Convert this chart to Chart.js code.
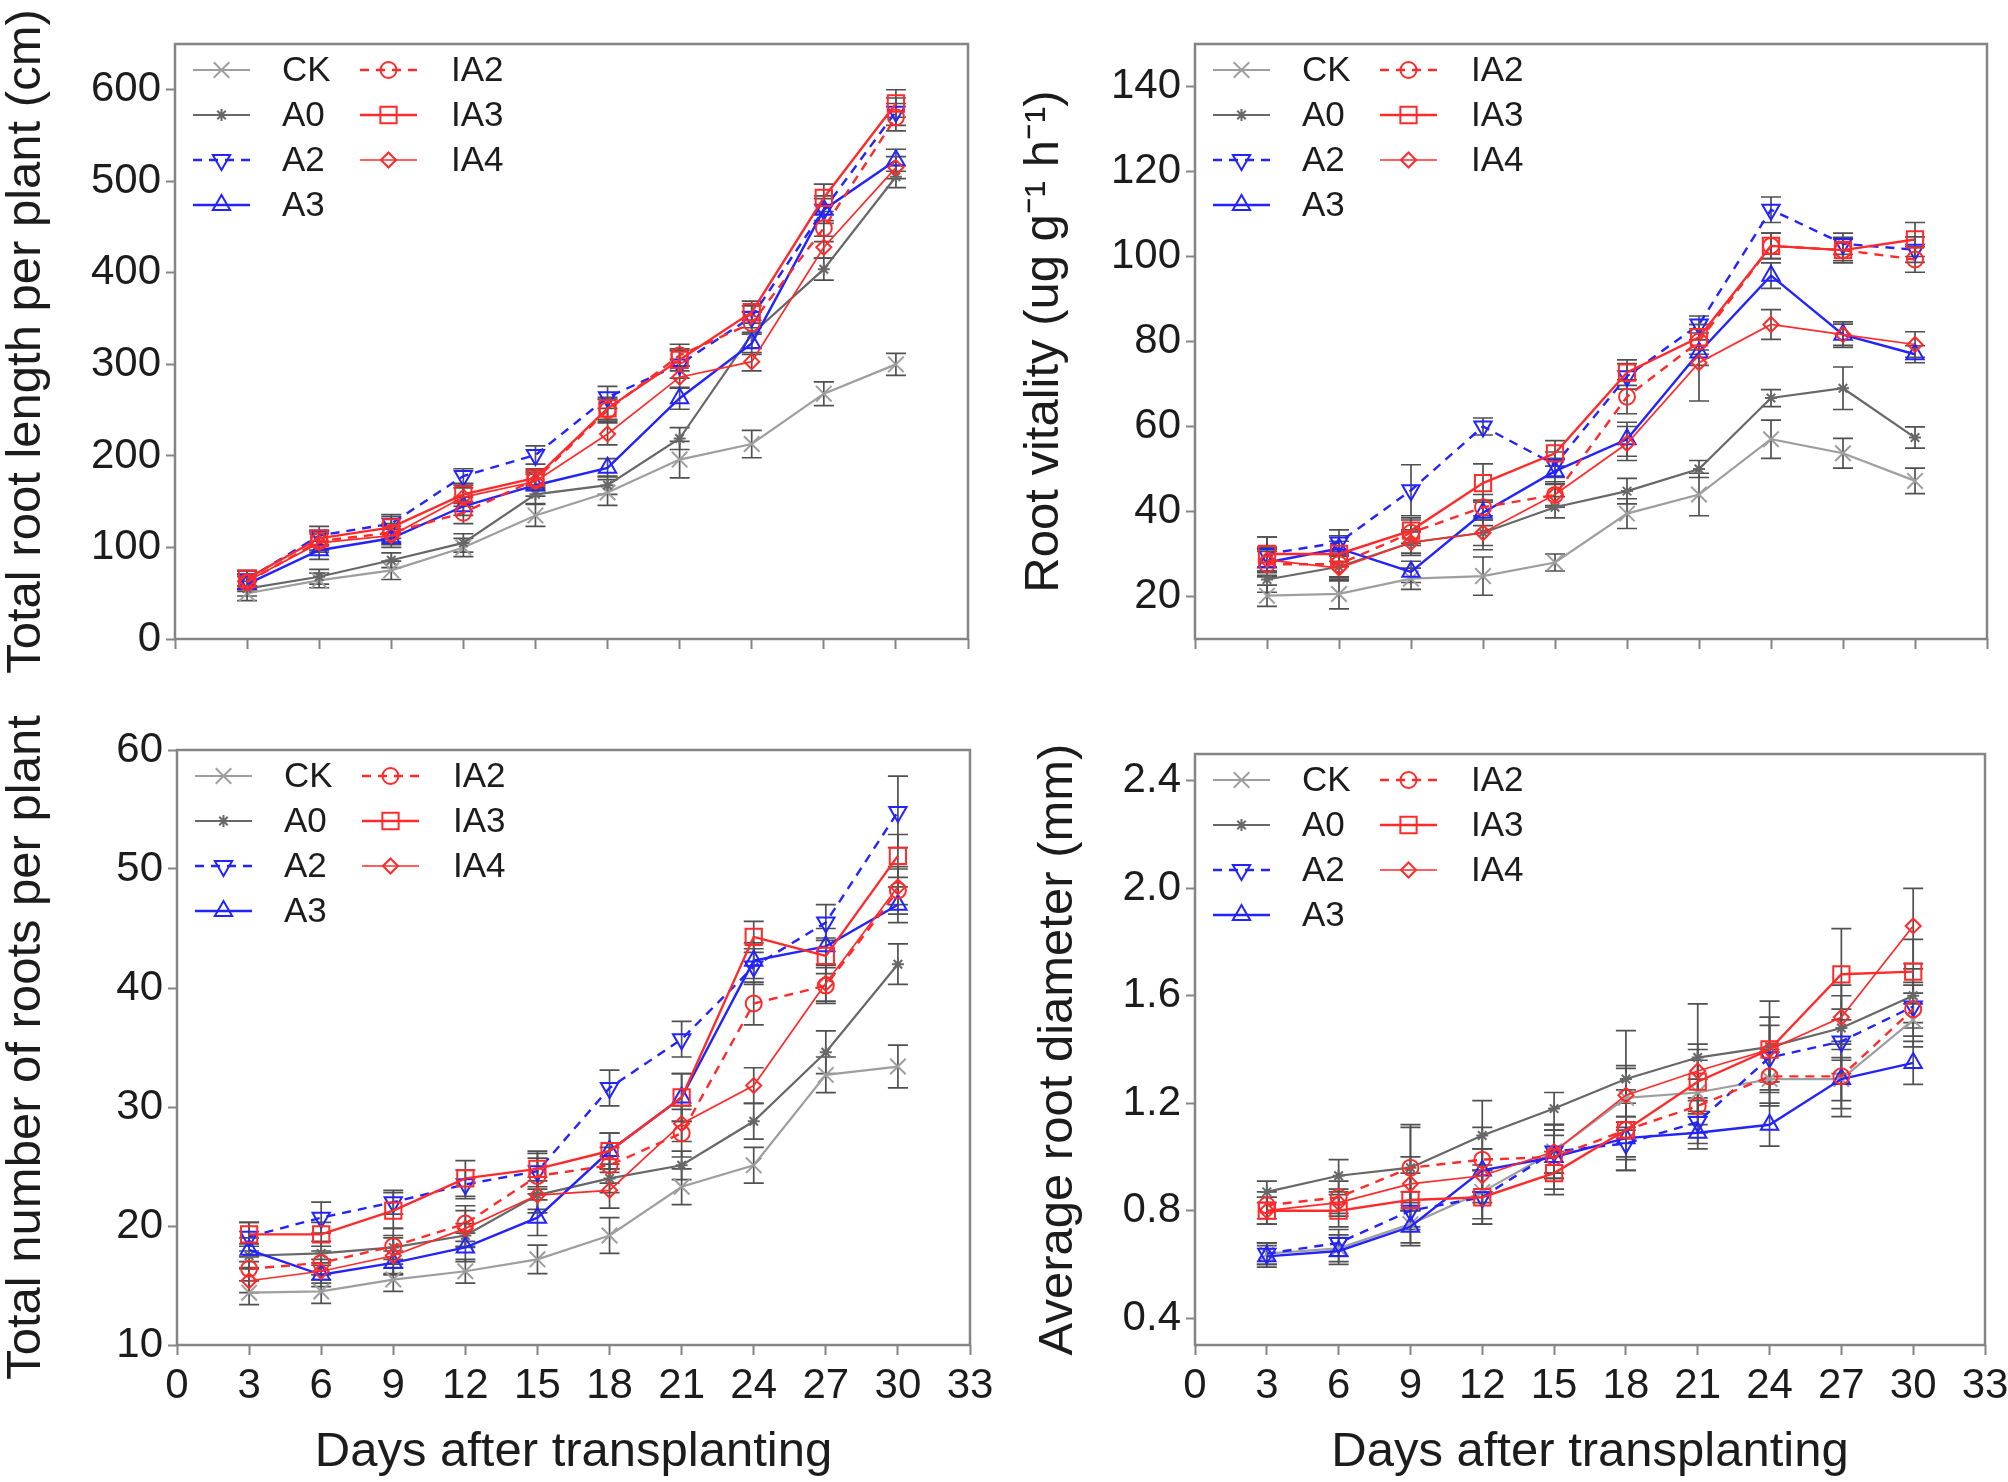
<!DOCTYPE html>
<html>
<head>
<meta charset="utf-8">
<title>Raíces - 4 paneles</title>
<script src="https://cdn.jsdelivr.net/npm/chart.js@4.4.1/dist/chart.umd.min.js"></script>
<style>
  html, body { margin: 0; padding: 0; background: #ffffff; }
  #lienzo { position: relative; width: 2008px; height: 1482px; }
  #lienzo canvas { position: absolute; }
</style>
</head>
<body>
<div id="lienzo">
  <canvas id="chart-longitud" width="1004" height="741" style="left:0px;top:0px"></canvas>
  <canvas id="chart-vitalidad" width="1004" height="741" style="left:1004px;top:0px"></canvas>
  <canvas id="chart-numero" width="1004" height="802" style="left:0px;top:680px"></canvas>
  <canvas id="chart-diametro" width="1004" height="802" style="left:1004px;top:680px"></canvas>
</div>
<script>
'use strict';

//#region DATOS
//////////////////////////////////////////////////////////////////////
// DATOS
//////////////////////////////////////////////////////////////////////

const dias = [3, 6, 9, 12, 15, 18, 21, 24, 27, 30];
const nombresSeries = ['CK', 'A0', 'A2', 'A3', 'IA2', 'IA3', 'IA4'];

const ticksDias = [0, 3, 6, 9, 12, 15, 18, 21, 24, 27, 30, 33];
const ticksLongitud = [0, 100, 200, 300, 400, 500, 600];
const ticksVitalidad = [20, 40, 60, 80, 100, 120, 140];
const ticksNumero = [10, 20, 30, 40, 50, 60];
const ticksDiametro = [0.4, 0.8, 1.2, 1.6, 2.0, 2.4];

// Total root length per plant (cm)
const longCK  = [50, 64, 75, 100, 135, 160, 196, 213, 268, 300];
const longA0  = [55, 68, 86, 105, 158, 168, 219, 333, 404, 505];
const longA2  = [65, 113, 126, 178, 201, 264, 300, 352, 469, 576];
const longA3  = [60, 97, 110, 145, 168, 187, 263, 323, 469, 523];
const longIA2 = [62, 107, 116, 138, 174, 250, 310, 345, 449, 570];
const longIA3 = [66, 110, 122, 158, 176, 252, 305, 357, 482, 585];
const longIA4 = [63, 105, 113, 155, 172, 224, 286, 303, 428, 515];

const errLongCK  = [8, 8, 10, 10, 12, 14, 20, 15, 13, 12];
const errLongA0  = [8, 8, 8, 10, 10, 10, 12, 15, 12, 12];
const errLongA2  = [10, 10, 10, 8, 10, 12, 15, 12, 15, 15];
const errLongA3  = [8, 10, 10, 10, 12, 10, 12, 12, 12, 12];
const errLongIA2 = [8, 10, 10, 12, 10, 12, 12, 12, 15, 15];
const errLongIA3 = [8, 8, 12, 10, 10, 12, 12, 12, 15, 15];
const errLongIA4 = [8, 10, 10, 10, 10, 12, 12, 10, 12, 12];

// Root vitality (ug g-1 h-1)
const vitCK  = [20.2, 20.6, 24.2, 24.8, 28, 39.5, 44, 57, 53.7, 47.2];
const vitA0  = [24, 27, 32.7, 35, 41, 44.8, 50, 66.7, 69, 57.4];
const vitA2  = [30, 32.7, 45, 60, 51, 71.8, 84, 111, 103, 101.6];
const vitA3  = [28, 31.3, 25.8, 39.7, 49.5, 57, 77.4, 95.5, 81.6, 77];
const vitIA2 = [27.6, 27.6, 35, 41, 43.9, 67, 80, 102.5, 101.5, 99.3];
const vitIA3 = [30, 30, 35.5, 46.7, 53.7, 72.7, 81, 102.5, 101.5, 104];
const vitIA4 = [28.6, 26.7, 32.7, 35, 44, 56, 75, 84, 81.6, 79.3];

const errVitCK  = [2.5, 3.5, 2.5, 4.5, 2, 3.5, 5, 4.5, 3.5, 3];
const errVitA0  = [3, 2.5, 2.5, 3, 2.5, 3, 2, 2, 5, 2.5];
const errVitA2  = [4, 3, 6, 2, 3, 3, 2, 3, 2.5, 3];
const errVitA3  = [3, 3, 2.5, 3, 3, 4, 3, 3, 3, 2];
const errVitIA2 = [3, 3, 3, 3, 2.5, 4, 3, 3, 2.5, 3];
const errVitIA3 = [4, 3, 3, 4.5, 3, 3, 3, 3, 3, 4];
const errVitIA4 = [3, 3, 3, 4, 3, 4, 9, 3.5, 2.5, 3];

// Total number of roots per plant
const numCK  = [14.4, 14.5, 15.5, 16.2, 17.2, 19.2, 23.3, 25.1, 32.7, 33.4];
const numA0  = [17.5, 17.7, 18.2, 19.2, 22.6, 24, 25.1, 28.8, 34.6, 42];
const numA2  = [19.1, 20.7, 22, 23.5, 24.6, 31.6, 35.7, 41.8, 45.5, 54.8];
const numA3  = [18, 15.9, 16.9, 18.2, 20.7, 26.3, 30.8, 42.3, 43.5, 47];
const numIA2 = [16.4, 16.9, 18.3, 20.2, 24.2, 25.1, 27.8, 38.7, 40.2, 48.2];
const numIA3 = [19.3, 19.3, 21.3, 24, 24.8, 26.3, 30.8, 44.3, 42.7, 51.1];
const numIA4 = [15.4, 16.2, 17.5, 19.8, 22.6, 23, 28.6, 31.8, 40.4, 48.5];

const errNumCK  = [1, 1, 1, 1, 1.2, 1.5, 1.5, 1.5, 1.5, 1.8];
const errNumA0  = [1, 1, 1, 1, 1.2, 1.2, 1.2, 1.5, 1.8, 1.7];
const errNumA2  = [1.2, 1.3, 1, 1.2, 1.5, 1.5, 1.5, 1.5, 1.5, 3];
const errNumA3  = [1, 1, 1, 1.2, 1.5, 1.5, 2, 1.5, 1.5, 1.5];
const errNumIA2 = [1, 1, 1.5, 1.5, 1.5, 1.5, 2, 1.8, 1.5, 2];
const errNumIA3 = [1, 1, 1.5, 1.5, 1.5, 1.5, 2, 1.3, 1.5, 1.8];
const errNumIA4 = [1, 1, 1.5, 1.5, 1.5, 1.5, 1.5, 1.5, 1.5, 1.5];

// Average root diameter (mm)
const diaCK  = [0.64, 0.66, 0.75, 0.87, 1.02, 1.22, 1.24, 1.29, 1.29, 1.51];
const diaA0  = [0.87, 0.93, 0.96, 1.08, 1.18, 1.29, 1.37, 1.41, 1.48, 1.60];
const diaA2  = [0.64, 0.68, 0.80, 0.85, 1.02, 1.05, 1.13, 1.37, 1.43, 1.56];
const diaA3  = [0.63, 0.65, 0.74, 0.95, 1.00, 1.07, 1.09, 1.12, 1.29, 1.35];
const diaIA2 = [0.82, 0.85, 0.96, 0.99, 1.00, 1.10, 1.19, 1.30, 1.30, 1.55];
const diaIA3 = [0.80, 0.80, 0.84, 0.85, 0.94, 1.10, 1.28, 1.40, 1.68, 1.69];
const diaIA4 = [0.80, 0.83, 0.90, 0.93, 1.02, 1.23, 1.32, 1.40, 1.52, 1.86];

const errDiaCK  = [0.04, 0.05, 0.08, 0.10, 0.08, 0.12, 0.12, 0.10, 0.14, 0.10];
const errDiaA0  = [0.04, 0.06, 0.15, 0.13, 0.06, 0.18, 0.20, 0.17, 0.12, 0.10];
const errDiaA2  = [0.04, 0.05, 0.07, 0.10, 0.10, 0.10, 0.08, 0.12, 0.12, 0.08];
const errDiaA3  = [0.04, 0.05, 0.06, 0.08, 0.08, 0.08, 0.06, 0.08, 0.08, 0.08];
const errDiaIA2 = [0.05, 0.06, 0.16, 0.12, 0.12, 0.10, 0.10, 0.10, 0.12, 0.10];
const errDiaIA3 = [0.05, 0.06, 0.10, 0.10, 0.08, 0.15, 0.12, 0.12, 0.17, 0.12];
const errDiaIA4 = [0.05, 0.05, 0.10, 0.10, 0.08, 0.10, 0.10, 0.12, 0.12, 0.14];

//#endregion DATOS

//#region ESTILOS
//////////////////////////////////////////////////////////////////////
// ESTILOS
//////////////////////////////////////////////////////////////////////

const FUENTE = "'Liberation Sans', Arial, Helvetica, sans-serif";
const COLOR_TEXTO = '#1c1c1c';
const COLOR_EJE = '#858585';
const COLOR_ERROR = '#505050';
const GRIS_CLARO = '#9e9e9e';
const GRIS_OSCURO = '#676767';
const AZUL = '#2323ff';
const ROJO = '#ff2b2b';

const estilosSeries = {
  CK:  { color: GRIS_CLARO,  punto: 'crossRot', radio: 11, giro: 0,   grosor: 2.2, guion: [] },
  A0:  { color: GRIS_OSCURO, punto: 'star',     radio: 6,  giro: 0,   grosor: 2.2, guion: [] },
  A2:  { color: AZUL,        punto: 'triangle', radio: 10, giro: 180, grosor: 2.4, guion: [9, 7] },
  A3:  { color: AZUL,        punto: 'triangle', radio: 10, giro: 0,   grosor: 2.4, guion: [] },
  IA2: { color: ROJO,        punto: 'circle',   radio: 8,  giro: 0,   grosor: 2.4, guion: [9, 7] },
  IA3: { color: ROJO,        punto: 'rect',     radio: 11.5, giro: 0, grosor: 2.4, guion: [] },
  IA4: { color: ROJO,        punto: 'rectRot',  radio: 7.5, giro: 0,  grosor: 1.7, guion: [] }
};

//#endregion ESTILOS

//#region PLUGINS
//////////////////////////////////////////////////////////////////////
// PLUGINS: marco, barras de error, leyenda en dos columnas
//////////////////////////////////////////////////////////////////////

const pluginMarco = {
  id: 'marco',
  beforeDatasetsDraw: function (chart) {
    const a = chart.chartArea;
    const ctx = chart.ctx;
    ctx.save();
    ctx.strokeStyle = COLOR_EJE;
    ctx.lineWidth = 2.5;
    ctx.strokeRect(a.left, a.top, a.right - a.left, a.bottom - a.top);
    ctx.restore();
  }
};

const pluginErrores = {
  id: 'barrasError',
  beforeDatasetsDraw: function (chart) {
    const ctx = chart.ctx;
    const escalaY = chart.scales.y;
    ctx.save();
    ctx.strokeStyle = COLOR_ERROR;
    ctx.lineWidth = 1.7;
    chart.data.datasets.forEach(function (ds, i) {
      const meta = chart.getDatasetMeta(i);
      meta.data.forEach(function (pt, j) {
        const v = ds.data[j].y;
        const e = ds.errores[j];
        const yArriba = escalaY.getPixelForValue(v + e);
        const yAbajo = escalaY.getPixelForValue(v - e);
        ctx.beginPath();
        ctx.moveTo(pt.x, yArriba);
        ctx.lineTo(pt.x, yAbajo);
        ctx.moveTo(pt.x - 10, yArriba);
        ctx.lineTo(pt.x + 10, yArriba);
        ctx.moveTo(pt.x - 10, yAbajo);
        ctx.lineTo(pt.x + 10, yAbajo);
        ctx.stroke();
      });
    });
    ctx.restore();
  }
};

function dibujarMarcador(ctx, ds, x, y) {
  const opciones = {
    pointStyle: ds.pointStyle,
    rotation: ds.pointRotation || 0,
    radius: ds.pointRadius,
    borderWidth: ds.pointBorderWidth
  };
  if (Chart.helpers && Chart.helpers.drawPoint) {
    Chart.helpers.drawPoint(ctx, opciones, x, y);
    return;
  }
  ctx.beginPath();
  ctx.arc(x, y, ds.pointRadius * 0.8, 0, Math.PI * 2);
  ctx.stroke();
}

const pluginLeyenda = {
  id: 'leyendaColumnas',
  afterDatasetsDraw: function (chart) {
    const ctx = chart.ctx;
    const a = chart.chartArea;
    ctx.save();
    chart.data.datasets.forEach(function (ds, i) {
      const col = i < 4 ? 0 : 1;
      const fila = i < 4 ? i : i - 4;
      const y = a.top + 26 + fila * 45;
      const x0 = a.left + (col === 0 ? 18 : 185);
      const x1 = x0 + 57;

      ctx.strokeStyle = ds.borderColor;
      ctx.lineWidth = ds.borderWidth;
      ctx.setLineDash(ds.borderDash || []);
      ctx.beginPath();
      ctx.moveTo(x0, y);
      ctx.lineTo(x1, y);
      ctx.stroke();
      ctx.setLineDash([]);

      ctx.strokeStyle = ds.pointBorderColor;
      ctx.fillStyle = 'rgba(0,0,0,0)';
      ctx.lineWidth = ds.pointBorderWidth;
      dibujarMarcador(ctx, ds, (x0 + x1) / 2, y);

      ctx.fillStyle = COLOR_TEXTO;
      ctx.font = '35px ' + FUENTE;
      ctx.textAlign = 'left';
      ctx.textBaseline = 'middle';
      ctx.fillText(ds.label, a.left + (col === 0 ? 107 : 276), y + 1);
    });
    ctx.restore();
  }
};

//#endregion PLUGINS

//#region PANELES
//////////////////////////////////////////////////////////////////////
// PANELES
//////////////////////////////////////////////////////////////////////

function construirDatasets(valores, errores) {
  return nombresSeries.map(function (nombre, i) {
    const est = estilosSeries[nombre];
    return {
      label: nombre,
      data: dias.map(function (d, j) {
        return { x: d, y: valores[i][j] };
      }),
      errores: errores[i],
      order: nombresSeries.length - i,
      borderColor: est.color,
      backgroundColor: 'rgba(0,0,0,0)',
      borderWidth: est.grosor,
      borderDash: est.guion,
      tension: 0,
      fill: false,
      pointStyle: est.punto,
      pointRotation: est.giro,
      pointRadius: est.radio,
      pointBorderColor: est.color,
      pointBorderWidth: 2,
      pointBackgroundColor: 'rgba(0,0,0,0)'
    };
  });
}

function crearPanel(idCanvas, cfg) {
  const canvas = document.getElementById(idCanvas);
  const W = canvas.width;
  const H = canvas.height;
  const area = cfg.area;

  const fuenteTicks = { family: FUENTE, size: 42, lineHeight: 1.2 };
  const fuenteTitulo = { family: FUENTE, size: 49, lineHeight: 1.1 };

  return new Chart(canvas.getContext('2d'), {
    type: 'line',
    data: { datasets: construirDatasets(cfg.valores, cfg.errores) },
    options: {
      responsive: false,
      animation: false,
      events: [],
      layout: {
        padding: { left: cfg.padIzq, top: area.top, right: W - area.right, bottom: 0 }
      },
      plugins: {
        legend: { display: false },
        tooltip: { enabled: false }
      },
      scales: {
        x: {
          type: 'linear',
          min: 0,
          max: 33,
          afterBuildTicks: function (s) {
            s.ticks = ticksDias.map(function (v) { return { value: v }; });
          },
          afterFit: function (s) {
            s.height = H - area.bottom;
            s.paddingLeft = 0;
            s.paddingRight = 0;
          },
          border: { display: false },
          grid: {
            display: true,
            drawOnChartArea: false,
            drawTicks: true,
            tickLength: 10,
            tickWidth: 2,
            tickColor: COLOR_EJE
          },
          ticks: {
            display: cfg.etiquetasX,
            autoSkip: false,
            maxRotation: 0,
            padding: 6,
            color: COLOR_TEXTO,
            font: fuenteTicks
          },
          title: {
            display: cfg.etiquetasX,
            text: 'Days after transplanting',
            color: COLOR_TEXTO,
            font: fuenteTitulo,
            padding: { top: 0, bottom: 3 }
          }
        },
        y: {
          type: 'linear',
          min: cfg.yMin,
          max: cfg.yMax,
          afterBuildTicks: function (s) {
            s.ticks = cfg.yTicks.map(function (v) { return { value: v }; });
          },
          afterFit: function (s) {
            s.width = area.left - cfg.padIzq;
            s.paddingTop = 0;
            s.paddingBottom = 0;
          },
          border: { display: false },
          grid: {
            display: true,
            drawOnChartArea: false,
            drawTicks: true,
            tickLength: 9,
            tickWidth: 2,
            tickColor: COLOR_EJE
          },
          ticks: {
            padding: 5,
            color: COLOR_TEXTO,
            font: fuenteTicks,
            callback: function (v) {
              return cfg.decimales ? Number(v).toFixed(cfg.decimales) : String(v);
            }
          },
          title: {
            display: true,
            text: cfg.yTitulo,
            color: COLOR_TEXTO,
            font: fuenteTitulo,
            padding: { top: 0, bottom: 0 }
          }
        }
      }
    },
    plugins: [pluginMarco, pluginErrores, pluginLeyenda]
  });
}

crearPanel('chart-longitud', {
  valores: [longCK, longA0, longA2, longA3, longIA2, longIA3, longIA4],
  errores: [errLongCK, errLongA0, errLongA2, errLongA3, errLongIA2, errLongIA3, errLongIA4],
  yMin: 0, yMax: 650, yTicks: ticksLongitud, decimales: 0,
  yTitulo: 'Total root length per plant (cm)',
  etiquetasX: false,
  padIzq: 0,
  area: { left: 175, top: 44, right: 968, bottom: 639 }
});

crearPanel('chart-vitalidad', {
  valores: [vitCK, vitA0, vitA2, vitA3, vitIA2, vitIA3, vitIA4],
  errores: [errVitCK, errVitA0, errVitA2, errVitA3, errVitIA2, errVitIA3, errVitIA4],
  yMin: 10, yMax: 150, yTicks: ticksVitalidad, decimales: 0,
  yTitulo: 'Root vitality (ug g\u207B\u00B9 h\u207B\u00B9)',
  etiquetasX: false,
  padIzq: 14,
  area: { left: 191, top: 44, right: 983, bottom: 639 }
});

// paneles inferiores: el canvas empieza en y=680 para que quepa el título del eje
crearPanel('chart-numero', {
  valores: [numCK, numA0, numA2, numA3, numIA2, numIA3, numIA4],
  errores: [errNumCK, errNumA0, errNumA2, errNumA3, errNumIA2, errNumIA3, errNumIA4],
  yMin: 10, yMax: 60, yTicks: ticksNumero, decimales: 0,
  yTitulo: 'Total number of roots per plant',
  etiquetasX: true,
  padIzq: 0,
  area: { left: 177, top: 70, right: 970, bottom: 665 }
});

crearPanel('chart-diametro', {
  valores: [diaCK, diaA0, diaA2, diaA3, diaIA2, diaIA3, diaIA4],
  errores: [errDiaCK, errDiaA0, errDiaA2, errDiaA3, errDiaIA2, errDiaIA3, errDiaIA4],
  yMin: 0.3, yMax: 2.5, yTicks: ticksDiametro, decimales: 1,
  yTitulo: 'Average root diameter (mm)',
  etiquetasX: true,
  padIzq: 28,
  area: { left: 191, top: 74, right: 981, bottom: 665 }
});

//#endregion PANELES
</script>
</body>
</html>
